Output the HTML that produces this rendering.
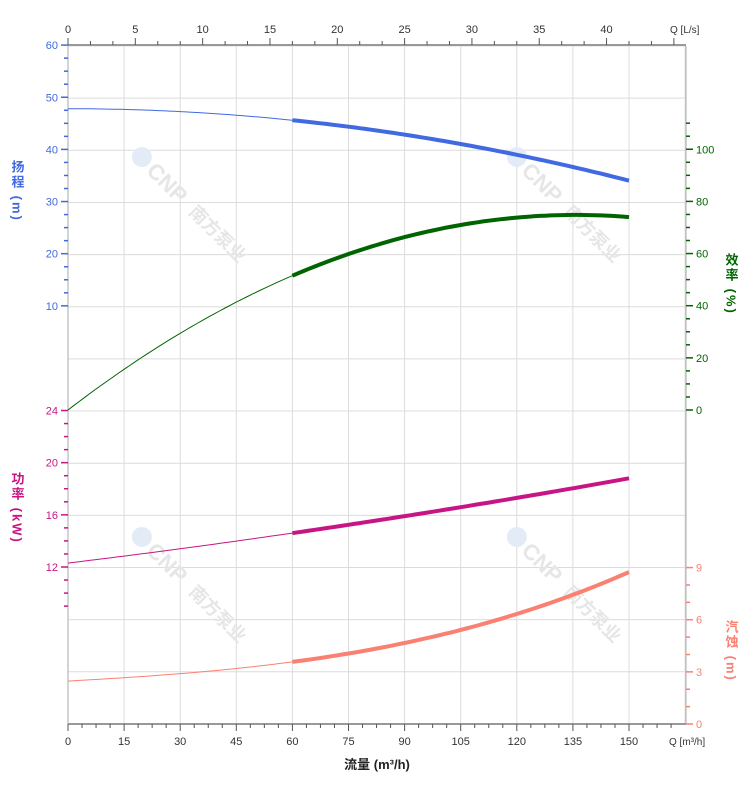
<!DOCTYPE html>
<html><head><meta charset="utf-8"><style>
body{margin:0;background:#fff}
svg{display:block;font-family:"Liberation Sans","Noto Sans CJK SC",sans-serif}
</style></head><body>
<svg id="s" width="752" height="797" xmlns="http://www.w3.org/2000/svg"></svg>
<script>
const s=document.getElementById('s');let h='';
const X=q=>68+q*3.74;
const L=(x1,y1,x2,y2,c,w)=>h+=`<line x1="${x1}" y1="${y1}" x2="${x2}" y2="${y2}" stroke="${c}" stroke-width="${w||1}"/>`;
const T=(x,y,t,c,a,sz,extra)=>h+=`<text x="${x}" y="${y}" fill="${c}" font-size="${sz||11}" text-anchor="${a||'middle'}" ${extra||''}>${t}</text>`;
// grid
for(let i=0;i<=11;i++)L(X(i*15),46,X(i*15),724,'#dcdcdc');
for(let i=0;i<=13;i++){let y=46+i*52.15;L(68,y,686,y,'#dcdcdc');}
// watermarks
[[185,210],[560,210],[185,590],[560,590]].forEach(([x,y])=>{
h+=`<g transform="translate(${x},${y}) rotate(45)" font-weight="bold"><circle cx="-68" cy="-7" r="10" fill="#e3ecf6"/><text x="-55" y="1" font-size="22" fill="#e6e6e6">CNP</text><text x="4" y="0" font-size="18" fill="#e6e6e6">南方泵业</text></g>`;});
// axes
L(68,45,686,45,'#999',2);L(68,724,686,724,'#999',2);
L(68,46,68,724,'#aaa');L(686,46,686,724,'#aaa');
// bottom ticks
for(let i=0;i*3.75<=164;i++){let q=i*3.75,x=X(q);if(x>687)break;L(x,724,x,i%4==0?731:728,'#555');}
for(let i=0;i<=10;i++)T(X(i*15),745,i*15,'#333');
T(669,745,'Q [m³/h]','#333','start',10);
// top ticks
for(let i=0;;i++){let l=i*5/3,x=X(l*3.6);if(x>687)break;L(x,45,x,i%3==0?38:41,'#555');}
for(let i=0;i<=8;i++)T(X(i*5*3.6),33,i*5,'#333');
T(670,33,'Q [L/s]','#333','start',10);
// head axis (left)
const hb='#4169e1';
for(let v=10;v<=60;v+=2.5){let y=358-5.215*v;L(v%10==0?61:64,y,68,y,hb,1.5);}
for(let v=10;v<=60;v+=10)T(58,358-5.215*v+4,v,hb,'end');
h+=`<text x="17" y="160" fill="${hb}" font-size="13" font-weight="bold" style="writing-mode:vertical-rl" letter-spacing="2">扬程 (m)</text>`;
// power axis
const pm='#c71585';
for(let v=9;v<=24;v+=1){let y=567-(v-12)*13.04;if(y>640)continue;L(v%4==0?61:64,y,68,y,pm,1.5);}
for(let v=12;v<=24;v+=4)T(58,567-(v-12)*13.04+4,v,pm,'end');
h+=`<text x="17" y="472" fill="${pm}" font-size="13" font-weight="bold" style="writing-mode:vertical-rl" letter-spacing="2">功率 (kW)</text>`;
// efficiency axis right
const gr='#006400';
for(let v=0;v<=110;v+=5){let y=410-2.6075*v;L(686,y,v%20==0?693:690,y,gr,1.5);}
for(let v=0;v<=100;v+=20)T(696,410-2.6075*v+4,v,gr,'start');
h+=`<text x="731" y="253" fill="${gr}" font-size="13" font-weight="bold" style="writing-mode:vertical-rl" letter-spacing="2">效率 (%)</text>`;
// npsh axis
const sa='#fa8072';
for(let v=0;v<=9;v+=1){let y=724-17.38*v;L(686,y,v%3==0?693:690,y,sa,1.5);}
for(let v=0;v<=9;v+=3)T(696,724-17.38*v+4,v,sa,'start');
h+=`<text x="731" y="620" fill="${sa}" font-size="13" font-weight="bold" style="writing-mode:vertical-rl" letter-spacing="2">汽蚀 (m)</text>`;
T(377,769,'流量 (m³/h)','#222','middle',13,'font-weight="bold"');
// curves
function curve(f,c){let a='',b='';for(let q=0;q<=150;q+=1.5){let p=X(q).toFixed(1)+','+f(q).toFixed(1)+' ';if(q<=60)a+=p;if(q>=60)b+=p;}
h+=`<polyline points="${a}" fill="none" stroke="${c}" stroke-width="1"/><polyline points="${b}" fill="none" stroke="${c}" stroke-width="4"/>`;}
curve(q=>358-5.215*(47.8-0.000613*q*q),hb);
curve(q=>410-2.6075*(1.1017*q-0.004056*q*q),gr);
curve(q=>567-(12.3+0.035*q+0.0000556*q*q-12)*13.04,pm);
curve(q=>724-17.38*(2.47+0.012*q+0.000045*q*q+0.000001025*q*q*q),sa);
s.innerHTML=h;
</script>
</body></html>
